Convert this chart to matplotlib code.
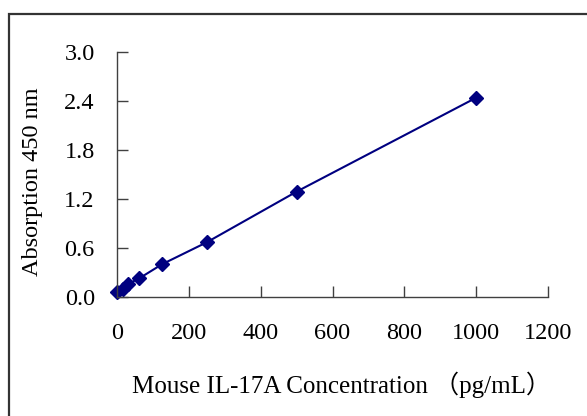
import matplotlib
matplotlib.use("Agg")
import matplotlib.pyplot as plt
from matplotlib.patches import Rectangle

# standard curve data
conc = [0, 15.6, 31.25, 62.5, 125, 250, 500, 1000]
absorb = [0.06, 0.10, 0.16, 0.23, 0.40, 0.67, 1.29, 2.44]

xticks = [0, 200, 400, 600, 800, 1000, 1200]
yticks = [0.0, 0.6, 1.2, 1.8, 2.4, 3.0]

plt.rcParams['font.family'] = ['Liberation Serif', 'Noto Sans CJK SC']

fig = plt.figure(figsize=(5.87, 4.16), dpi=100)
# outer frame (right and bottom run off the image)
fig.patches.append(Rectangle((9 / 587, -0.05), 1.0, (416 - 14) / 416 + 0.05,
                             transform=fig.transFigure, fill=False,
                             edgecolor='#333333', linewidth=1.6))

ax = fig.add_axes([117 / 587, 119 / 416, 431 / 587, 245 / 416])
ax.plot(conc, absorb, color='#000080', linewidth=1.5, marker='D',
        markersize=7.5, markerfacecolor='#000080', markeredgecolor='#000080',
        clip_on=False)

ax.set_xlim(0, 1200)
ax.set_ylim(0, 3.0)
ax.set_xticks(xticks)
ax.set_yticks(yticks)
ax.set_yticklabels([f"{v:.1f}" for v in yticks])

for s in ['top', 'right']:
    ax.spines[s].set_visible(False)
for s in ['left', 'bottom']:
    ax.spines[s].set_color('#404040')
    ax.spines[s].set_linewidth(1.0)

ax.tick_params(axis='both', direction='in', length=8, width=1.0,
               color='#404040', labelsize=17.5)
ax.tick_params(axis='y', pad=16)
ax.tick_params(axis='x', pad=19)

ax.set_xlabel("Mouse IL-17A Concentration \uff08pg/mL\uff09", fontsize=18)
ax.set_ylabel("Absorption 450 nm", fontsize=17.5)
ax.xaxis.set_label_coords(0.52, -0.305)
ax.yaxis.set_label_coords(-0.172, 0.47)

fig.savefig("out.png", dpi=100)
